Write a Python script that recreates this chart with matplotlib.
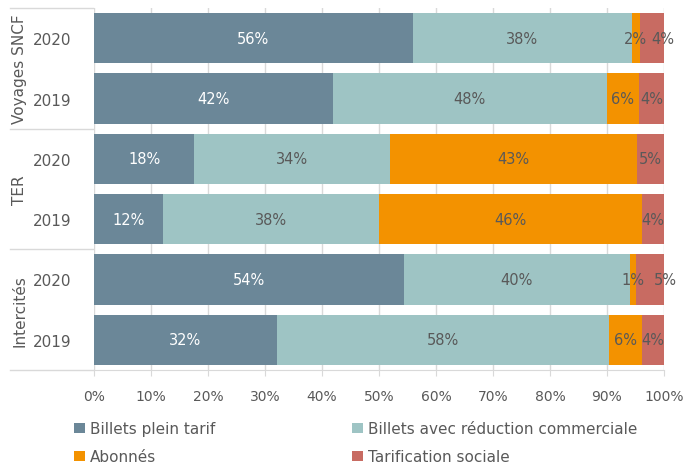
import numpy as np
import matplotlib.pyplot as plt

# valeurs (en %)
groupes = ["Voyages SNCF", "TER", "Intercités"]
annees = ["2020", "2019", "2020", "2019", "2020", "2019"]
series = ["Billets plein tarif", "Billets avec réduction commerciale",
          "Abonnés", "Tarification sociale"]
plein_tarif = [55.9, 41.9, 17.6, 12.1, 54.4, 32.1]
reduction = [38.4, 48.1, 34.4, 37.9, 39.6, 58.3]
abonnes = [1.5, 5.6, 43.3, 46.1, 1.1, 5.7]
sociale = [4.2, 4.4, 4.7, 3.9, 4.9, 3.9]

couleurs = ["#6B8798", "#9EC4C4", "#F39200", "#C86B62"]
couleurs_txt = ["white", "#595959", "#595959", "#595959"]
# petits decalages (en points) pour les etiquettes qui se chevauchent
decal = {(0, 3): 8, (4, 3): 11}

plt.rcParams['font.family'] = ['DejaVu Sans']
fig = plt.figure(figsize=(6.83, 4.64), dpi=100)
ax = fig.add_axes([94/683, 1-371/464, 570/683, 362/464])

y = np.arange(len(annees))
donnees = [plein_tarif, reduction, abonnes, sociale]
gauche = np.zeros(len(annees))
barres = []
for j, vals in enumerate(donnees):
    vals = np.array(vals)
    b = ax.barh(y, vals, left=gauche, height=0.83, color=couleurs[j],
                label=series[j], zorder=2)
    barres.append(b)
    for i, v in enumerate(vals):
        ax.annotate("%d%%" % round(v), (gauche[i] + v/2, y[i]),
                    xytext=(decal.get((i, j), 0), 0), textcoords="offset points",
                    ha="center", va="center", fontsize=10.5,
                    color=couleurs_txt[j], zorder=3)
    gauche += vals

ax.set_xlim(0, 100)
ax.set_ylim(5.5, -0.5)
ax.set_xticks(np.arange(0, 101, 10))
ax.set_xticklabels(["%d%%" % t for t in range(0, 101, 10)])
ax.set_yticks(y)
ax.set_yticklabels(annees)
ax.tick_params(axis="x", length=4, color="#D9D9D9", labelcolor="#595959",
               labelsize=10, pad=10)
ax.tick_params(axis="y", length=0, labelcolor="#595959", labelsize=11, pad=16)
ax.grid(axis="x", color="#D9D9D9", lw=1, zorder=0)
for s in ["top", "right", "left"]:
    ax.spines[s].set_visible(False)
ax.spines["bottom"].set_color("#D9D9D9")

# axe a deux niveaux
trans = ax.get_yaxis_transform()
for k, g in enumerate(groupes):
    ax.text(-0.13, 2*k + 0.5, g, transform=trans, rotation=90, ha="center",
            va="center", fontsize=11, color="#595959")
for b in [-0.5, 1.5, 3.5, 5.5]:
    ax.plot([-0.147, -0.002], [b, b], transform=trans, color="#D9D9D9",
            lw=1, clip_on=False)

ordre = [0, 2, 1, 3]
ax.legend([barres[k] for k in ordre], [series[k] for k in ordre],
          loc="upper left", bbox_to_anchor=(-0.045, -0.125), ncol=2,
          frameon=False, fontsize=11, labelcolor="#595959",
          handlelength=0.7, handleheight=0.7, handletextpad=0.3,
          columnspacing=9.0, borderaxespad=0, labelspacing=0.85)

fig.savefig("out.png", dpi=100)
